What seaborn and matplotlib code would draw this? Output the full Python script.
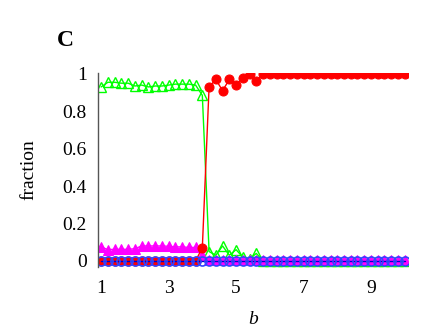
import seaborn as sns
import matplotlib.pyplot as plt
import pandas as pd

sns.set_style('white')
plt.rcParams['font.family'] = ['Liberation Serif', 'DejaVu Serif']
plt.rcParams['text.color'] = 'black'
plt.rcParams['axes.labelcolor'] = 'black'
plt.rcParams['xtick.color'] = 'black'
plt.rcParams['ytick.color'] = 'black'

b = [1.0, 1.2, 1.4, 1.6, 1.8, 2.0, 2.2, 2.4, 2.6, 2.8,
     3.0, 3.2, 3.4, 3.6, 3.8, 4.0, 4.2, 4.4, 4.6, 4.8,
     5.0, 5.2, 5.4, 5.6, 5.8, 6.0, 6.2, 6.4, 6.6, 6.8,
     7.0, 7.2, 7.4, 7.6, 7.8, 8.0, 8.2, 8.4, 8.6, 8.8,
     9.0, 9.2, 9.4, 9.6, 9.8, 10.0]

green = [0.93, 0.955, 0.955, 0.95, 0.95, 0.935, 0.94, 0.93, 0.935, 0.935,
         0.94, 0.945, 0.945, 0.945, 0.94, 0.885, 0.05, 0.03, 0.08, 0.03,
         0.06, 0.02, 0.01, 0.04, 0.0, 0, 0, 0, 0, 0,
         0, 0, 0, 0, 0, 0, 0, 0, 0, 0,
         0, 0, 0, 0, 0, 0]

magenta = [0.075, 0.06, 0.062, 0.062, 0.062, 0.065, 0.08, 0.08, 0.08, 0.08,
           0.078, 0.075, 0.075, 0.072, 0.072, 0.03, 0.005, 0.005, 0.005, 0.005,
           0.005, 0.005, 0.005, 0.005, 0.005, 0.005, 0.005, 0.005, 0.005, 0.005,
           0.005, 0.005, 0.005, 0.005, 0.005, 0.005, 0.005, 0.005, 0.005, 0.005,
           0.005, 0.005, 0.005, 0.005, 0.005, 0.005]

red = [0, 0, 0, 0, 0, 0, 0, 0, 0, 0,
       0, 0, 0, 0, 0, 0.07, 0.93, 0.97, 0.91, 0.97,
       0.94, 0.98, 1.0, 0.96, 1.0, 1.0, 1.0, 1.0, 1.0, 1.0,
       1.0, 1.0, 1.0, 1.0, 1.0, 1.0, 1.0, 1.0, 1.0, 1.0,
       1.0, 1.0, 1.0, 1.0, 1.0, 1.0]

blue = [0, 0, 0, 0, 0, 0, 0, 0, 0, 0,
        0, 0, 0, 0, 0, 0, 0, 0, 0, 0,
        0, 0, 0, 0, 0, 0, 0, 0, 0, 0,
        0, 0, 0, 0, 0, 0, 0, 0, 0, 0,
        0, 0, 0, 0, 0, 0]

df = pd.DataFrame({'b': b, 'green': green, 'magenta': magenta, 'red': red, 'blue': blue})

fig = plt.figure(figsize=(4.36, 3.27), dpi=100)
ax = fig.add_axes([0.225, 0.185, 0.711, 0.592])

sns.lineplot(data=df, x='b', y='green', ax=ax, color='#00ff00', lw=1,
             marker='^', markersize=6.5, markerfacecolor='none',
             markeredgecolor='#00ff00', markeredgewidth=1)
sns.lineplot(data=df, x='b', y='magenta', ax=ax, color='#ff00ff', lw=1,
             marker='^', markersize=6.5, markerfacecolor='#ff00ff',
             markeredgecolor='#ff00ff')
sns.lineplot(data=df, x='b', y='red', ax=ax, color='#ff0000', lw=1,
             marker='o', markersize=6.5, markerfacecolor='#ff0000',
             markeredgecolor='#ff0000')
sns.lineplot(data=df, x='b', y='blue', ax=ax, color='#0000cc', lw=1,
             marker='o', markersize=6.5, markerfacecolor='none',
             markeredgecolor='#3344ff', markeredgewidth=1.2)

ax.set_xlim(0.91, 10.1)
ax.set_ylim(-0.03, 1.005)
ax.set_xticks([1, 3, 5, 7, 9])
ax.set_yticks([0, 0.2, 0.4, 0.6, 0.8, 1])
ax.set_yticklabels(['0', '0.2', '0.4', '0.6', '0.8', '1'])

for s in ['top', 'right', 'bottom']:
    ax.spines[s].set_visible(False)
ax.spines['left'].set_color('#555555')
ax.spines['left'].set_linewidth(1)
ax.tick_params(axis='y', direction='in', length=4, color='#555555', labelsize=14, pad=8)
ax.tick_params(axis='x', direction='in', length=0, labelsize=14, pad=10)

ax.set_xlabel('b', fontsize=14, style='italic', labelpad=10)
ax.set_ylabel('fraction', fontsize=14, labelpad=18)
fig.text(0.15, 0.875, 'C', fontsize=17, fontweight='bold', ha='center', va='center')

fig.savefig('out.png', dpi=100)
